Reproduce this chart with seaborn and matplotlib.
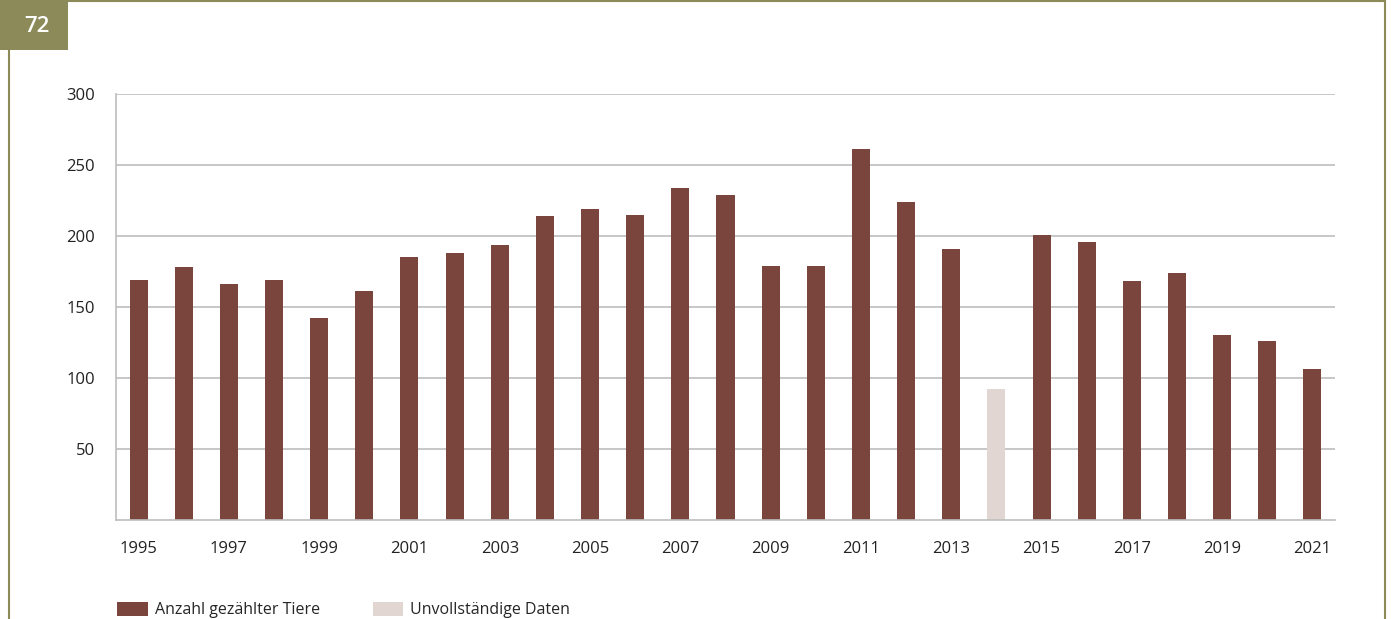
import matplotlib
matplotlib.use("Agg")
import matplotlib.pyplot as plt
from matplotlib.patches import Rectangle, Patch
from matplotlib.lines import Line2D
import seaborn as sns
import pandas as pd

years = list(range(1995, 2022))
counts = [169, 178, 166, 169, 142, 161, 185, 188, 194, 214, 219, 215, 234, 229,
          179, 179, 261, 224, 191, 92, 201, 196, 168, 174, 130, 126, 106]
status = ["Anzahl gezählter Tiere"] * 27
status[years.index(2014)] = "Unvollständige Daten"
legend_labels = ["Anzahl gezählter Tiere", "Unvollständige Daten"]
colors = ["#7a453d", "#e2d6d2"]
yticks = [50, 100, 150, 200, 250, 300]
badge = "72"

sns.set_theme(style="white")
plt.rcParams["font.family"] = ["Open Sans", "DejaVu Sans"]

df = pd.DataFrame({"year": [str(y) for y in years], "count": counts, "status": status})

fig = plt.figure(figsize=(13.92, 6.19), dpi=100)
ax = fig.add_axes([116/1392, 1 - 520/619, (1335-116)/1392, (520-94)/619])

sns.barplot(data=df, x="year", y="count", hue="status", hue_order=legend_labels,
            palette=dict(zip(legend_labels, colors)), dodge=False, width=0.4,
            ax=ax, legend=False, saturation=1, edgecolor="none")

ax.set_ylim(0, 300)
ax.set_xlim(-0.5, len(years) - 0.5)
ax.set_yticks(yticks)
ax.set_yticklabels([str(t) for t in yticks], fontsize=12, color="#222222")
ax.set_xticks(range(len(years)))
ax.set_xticklabels([str(y) if (y - 1995) % 2 == 0 else "" for y in years],
                   fontsize=12, color="#222222")
ax.tick_params(axis="x", length=0, pad=15)
ax.tick_params(axis="y", length=0, pad=15)
ax.set_xlabel("")
ax.set_ylabel("")
ax.yaxis.grid(True, color="#bdbdbd", linewidth=1.2)
ax.set_axisbelow(True)
for s in ["top", "right"]:
    ax.spines[s].set_visible(False)
for s in ["left", "bottom"]:
    ax.spines[s].set_color("#bdbdbd")
    ax.spines[s].set_linewidth(1.2)

handles = [Patch(facecolor=c, edgecolor="none", label=l) for c, l in zip(colors, legend_labels)]
fig.legend(handles=handles, loc="lower left", bbox_to_anchor=(103/1392, -0.022),
           ncol=2, frameon=False, handlelength=1.9, handleheight=0.95,
           handletextpad=0.45, columnspacing=3.3,
           prop={"family": ["Open Sans", "DejaVu Sans"], "size": 11.5})

# frame and badge
olive = "#8b8a58"
fig.add_artist(Rectangle((0, 1 - 50/619), 68/1392, 50/619, transform=fig.transFigure,
                         facecolor=olive, edgecolor="none"))
fig.text(37/1392, 1 - 26/619, badge, color="white", fontsize=16, fontweight="semibold",
         ha="center", va="center")
fig.add_artist(Line2D([68/1392, 1385/1392], [1 - 1/619, 1 - 1/619], transform=fig.transFigure,
                      color=olive, linewidth=1.5))
fig.add_artist(Line2D([1385/1392, 1385/1392], [0, 1 - 1/619], transform=fig.transFigure,
                      color=olive, linewidth=1.5))
fig.add_artist(Line2D([9/1392, 9/1392], [0, 1 - 50/619], transform=fig.transFigure,
                      color=olive, linewidth=1.5))

fig.savefig("out.png", dpi=100)
